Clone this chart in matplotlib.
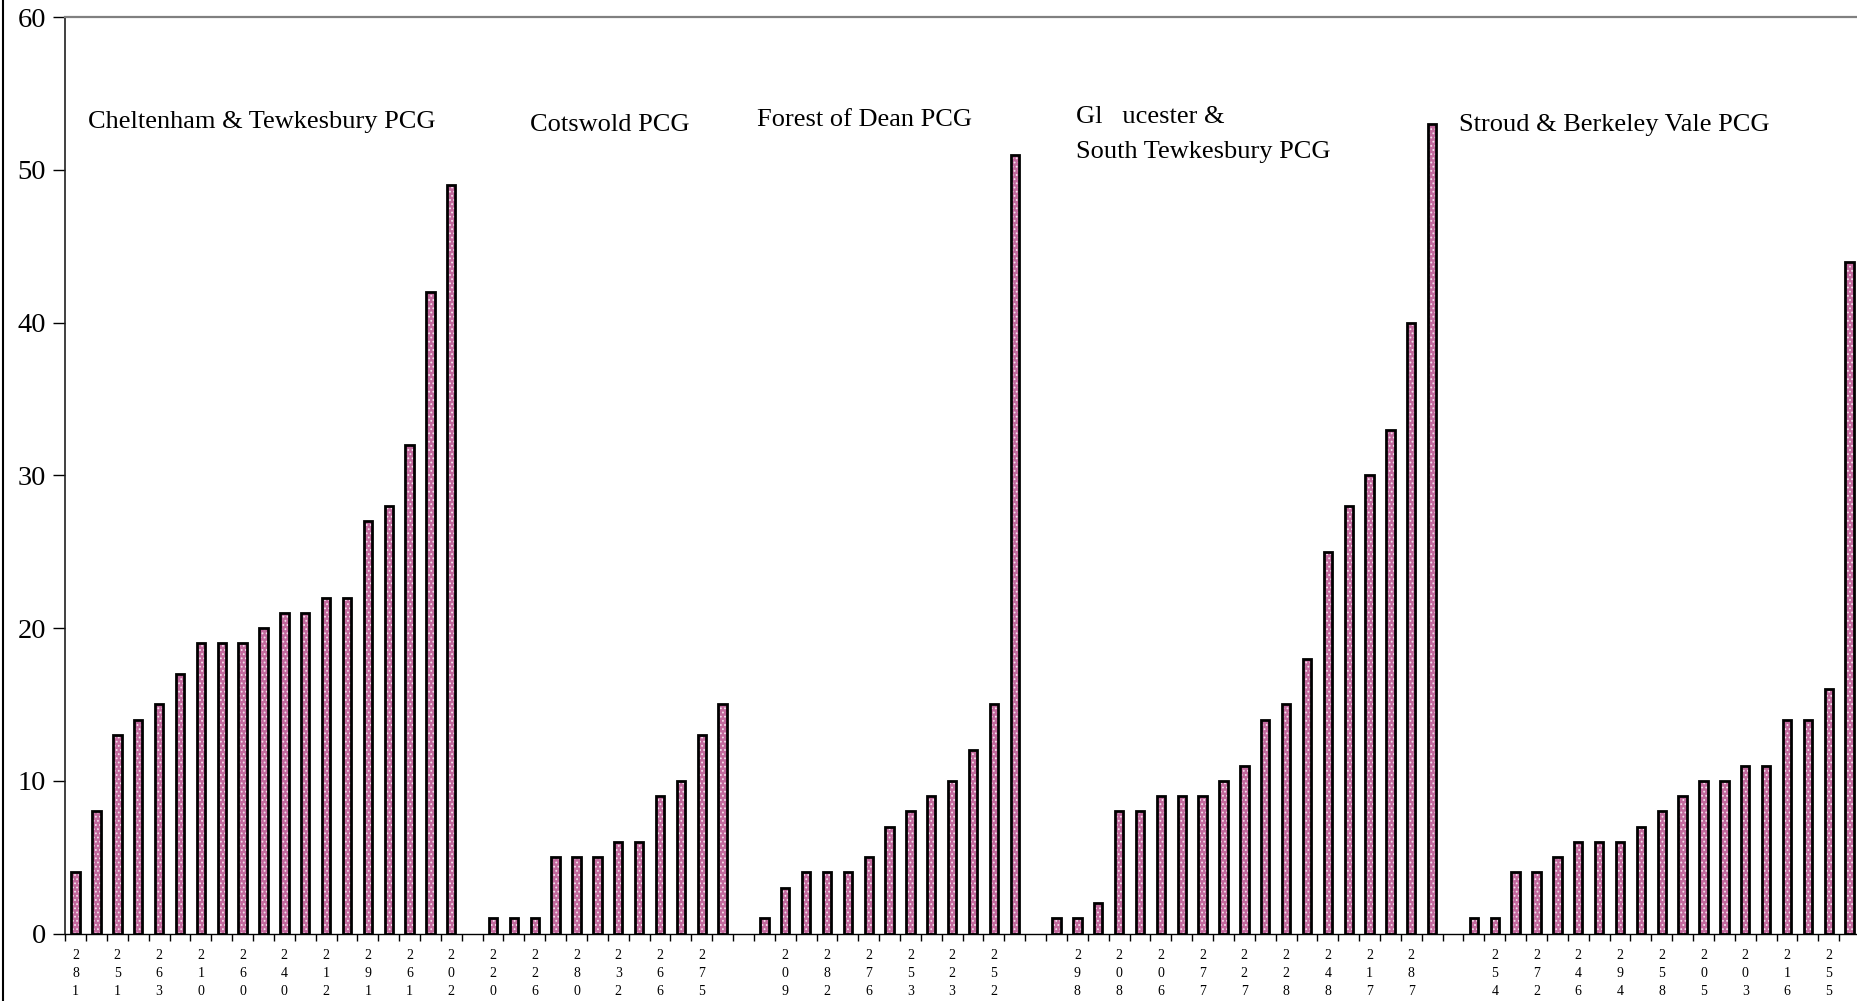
import matplotlib.pyplot as plt
from matplotlib.lines import Line2D

plt.rcParams['font.family'] = ['Liberation Serif', 'DejaVu Serif']
plt.rcParams['hatch.linewidth'] = 0.8

# practice codes and counts for each PCG, sorted ascending
groups = ['Cheltenham & Tewkesbury PCG', 'Cotswold PCG', 'Forest of Dean PCG',
          'Gl   ucester &\nSouth Tewkesbury PCG', 'Stroud & Berkeley Vale PCG']

chelt_codes = ['281', '', '251', '', '263', '', '210', '', '260', '', '240', '', '212', '', '291', '', '261', '', '202']
chelt_vals = [4, 8, 13, 14, 15, 17, 19, 19, 19, 20, 21, 21, 22, 22, 27, 28, 32, 42, 49]

cots_codes = ['220', '', '226', '', '280', '', '232', '', '266', '', '275', '']
cots_vals = [1, 1, 1, 5, 5, 5, 6, 6, 9, 10, 13, 15]

fod_codes = ['', '209', '', '282', '', '276', '', '253', '', '223', '', '252', '']
fod_vals = [1, 3, 4, 4, 4, 5, 7, 8, 9, 10, 12, 15, 51]

glos_codes = ['', '298', '', '208', '', '206', '', '277', '', '227', '', '228', '', '248', '', '217', '', '287', '']
glos_vals = [1, 1, 2, 8, 8, 9, 9, 9, 10, 11, 14, 15, 18, 25, 28, 30, 33, 40, 53]

stroud_codes = ['', '254', '', '272', '', '246', '', '294', '', '258', '', '205', '', '203', '', '216', '', '255', '']
stroud_vals = [1, 1, 4, 4, 5, 6, 6, 6, 7, 8, 9, 10, 10, 11, 11, 14, 14, 16, 44]

# build one category axis with a blank category between PCGs
codes, vals = [], []
for c, v in [(chelt_codes, chelt_vals), (cots_codes, cots_vals), (fod_codes, fod_vals),
             (glos_codes, glos_vals), (stroud_codes, stroud_vals)]:
    if codes:
        codes.append('')
        vals.append(None)
    codes += c
    vals += v

xs = [i for i, v in enumerate(vals) if v is not None]
hs = [v for v in vals if v is not None]
labels = ['\n'.join(list(c)) for c in codes]

W, H = 1858, 1001
fig = plt.figure(figsize=(W / 100, H / 100), dpi=100)
ax = fig.add_axes([65.2 / W, (H - 933.5) / H, (1860 - 65.2) / W, (933.5 - 17.3) / H])

ax.bar(xs, hs, width=0.4, color='#c2699d', edgecolor='#f4e0ec', linewidth=0, hatch='....', zorder=2)
ax.bar(xs, hs, width=0.4, fill=False, edgecolor='black', linewidth=2.0, zorder=3)

ax.set_xlim(-0.5, len(vals) - 0.5)
ax.set_ylim(0, 60)
ax.set_yticks(range(0, 61, 10))
ax.tick_params(axis='y', labelsize=20.5, length=9, width=1, pad=5, direction='out')

ax.set_xticks(range(len(vals)))
ax.set_xticklabels(labels, fontsize=10)
ax.set_xticks([i + 0.5 for i in range(-1, len(vals))], minor=True)
ax.tick_params(axis='x', which='major', length=0, pad=11)
ax.tick_params(axis='x', which='minor', length=5, width=1, direction='out')
for lbl in ax.get_xticklabels():
    lbl.set_linespacing(1.5)

ax.spines['right'].set_visible(False)
ax.spines['top'].set_color('#808080')
ax.spines['top'].set_linewidth(1.6)
ax.spines['left'].set_color('#202020')
ax.spines['left'].set_linewidth(1.2)
ax.spines['bottom'].set_linewidth(1.0)

# group captions
ax.text(0.58, 53.15, groups[0], fontsize=19, va='center', ha='left')
ax.text(21.76, 52.95, groups[1], fontsize=19, va='center', ha='left')
ax.text(32.65, 53.3, groups[2], fontsize=19, va='center', ha='left')
ax.text(47.94, 53.45, groups[3].split('\n')[0], fontsize=19, va='center', ha='left')
ax.text(47.94, 51.15, groups[3].split('\n')[1], fontsize=19, va='center', ha='left')
ax.text(66.3, 52.95, groups[4], fontsize=19, va='center', ha='left')

# outer chart border on the left
fig.add_artist(Line2D([2.5 / W, 2.5 / W], [0, 1], color='black', linewidth=1.5))

fig.savefig('out.png', dpi=100)
